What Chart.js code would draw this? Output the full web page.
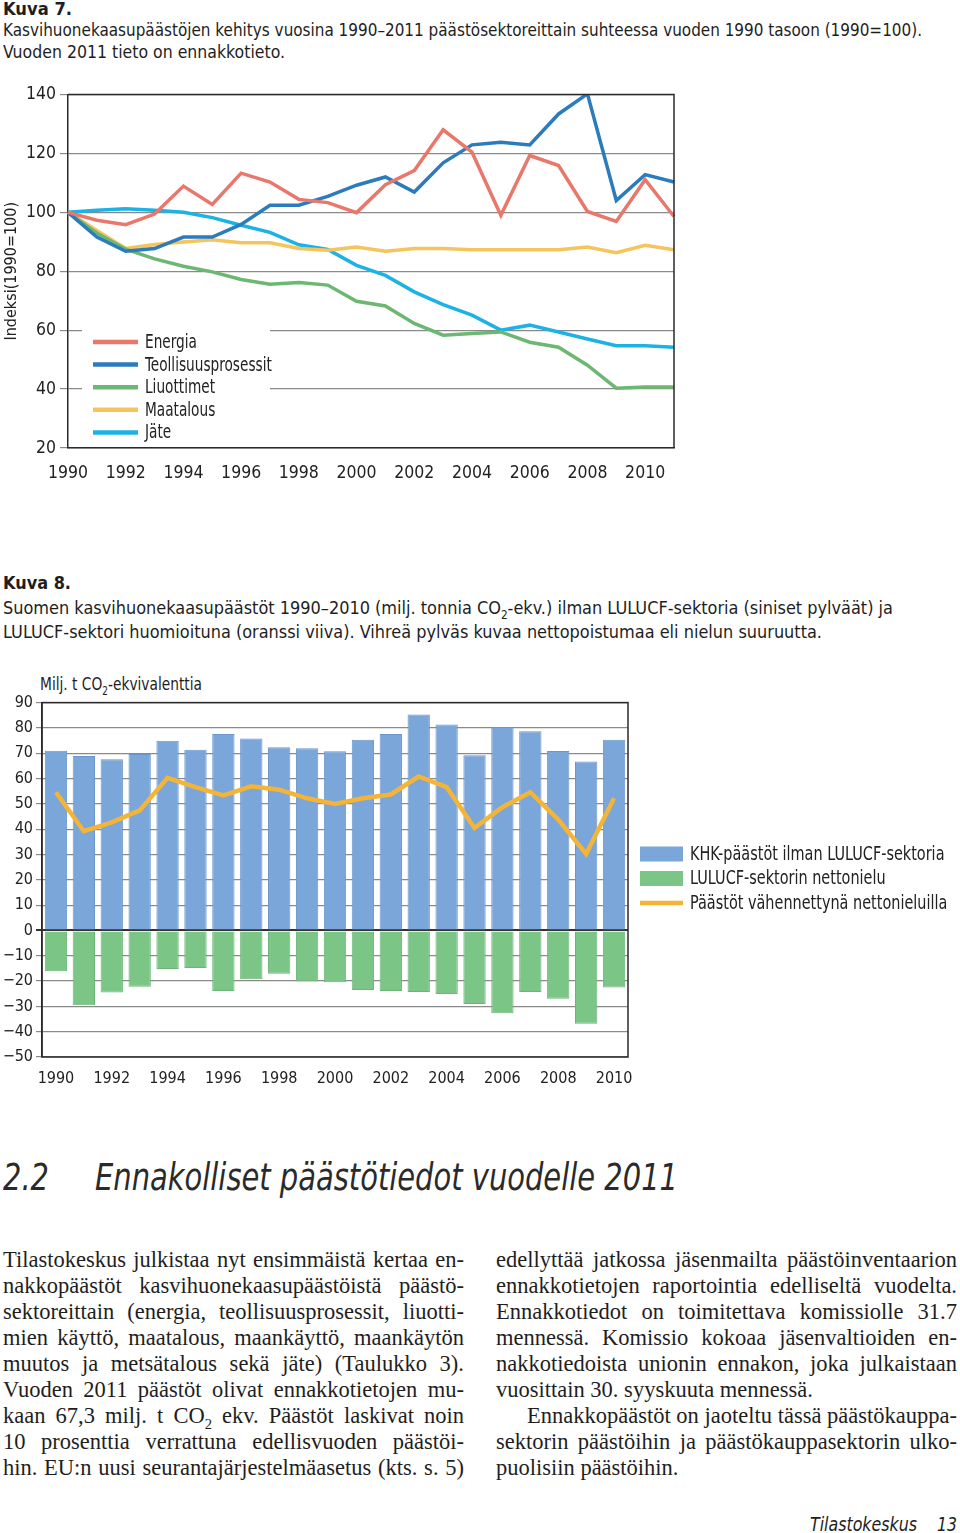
<!DOCTYPE html>
<html>
<head>
<meta charset="utf-8">
<script src="https://cdn.jsdelivr.net/npm/chart.js@4/dist/chart.umd.min.js"></script>
<style>
  body { margin: 0; background: #fff; width: 960px; height: 1533px; position: relative; overflow: hidden; }
  .t { position: absolute; font-family: "DejaVu Sans Condensed", "Liberation Sans Narrow", sans-serif; color: #1e1e1e; white-space: nowrap; transform-origin: 0 0; }
  .cap { font-size: 18px; line-height: 22px; left: 3px; }
  .bold { font-weight: bold; }
  .h2 { font-size: 37px; line-height: 40px; font-style: italic; color: #2a2a2a; }
  .body { position: absolute; font-family: "Liberation Serif", "DejaVu Serif", serif; font-size: 22.5px; line-height: 26px; color: #1e1e1e; width: 461px; text-align: justify; text-align-last: justify; white-space: nowrap; transform-origin: 0 0; }
  .last { text-align-last: left; }
  sub { font-size: 0.65em; line-height: 0; }
  canvas { position: absolute; left: 0; }
</style>
</head>
<body>
<div class="t cap bold" style="top:-2px" data-w="69">Kuva 7.</div>
<div class="t cap" style="top:19px" data-w="919">Kasvihuonekaasupäästöjen kehitys vuosina 1990–2011 päästösektoreittain suhteessa vuoden 1990 tasoon (1990=100).</div>
<div class="t cap" style="top:41px" data-w="282">Vuoden 2011 tieto on ennakkotieto.</div>

<canvas id="indexChart" width="690" height="420" style="top:80px"></canvas>

<div class="t cap bold" style="top:572px" data-w="68">Kuva 8.</div>
<div class="t cap" style="top:597px" data-w="890">Suomen kasvihuonekaasupäästöt 1990–2010 (milj. tonnia CO<sub>2</sub>-ekv.) ilman LULUCF-sektoria (siniset pylväät) ja</div>
<div class="t cap" style="top:621px" data-w="819">LULUCF-sektori huomioituna (oranssi viiva). Vihreä pylväs kuvaa nettopoistumaa eli nielun suuruutta.</div>

<div class="t" style="top:673px; left:40px; font-size:18px; line-height:22px;" data-w="162">Milj. t CO<sub>2</sub>-ekvivalenttia</div>
<canvas id="emissionChart" width="960" height="410" style="top:690px"></canvas>

<div class="t h2" style="top:1158px; left:3px" data-w="46">2.2</div>
<div class="t h2" style="top:1158px; left:95px" data-w="583">Ennakolliset päästötiedot vuodelle 2011</div>

<div class="body" style="left:3px; top:1247px">Tilastokeskus julkistaa nyt ensimmäistä kertaa en-</div>
<div class="body" style="left:3px; top:1273px">nakkopäästöt kasvihuonekaasupäästöistä päästö-</div>
<div class="body" style="left:3px; top:1299px">sektoreittain (energia, teollisuusprosessit, liuotti-</div>
<div class="body" style="left:3px; top:1325px">mien käyttö, maatalous, maankäyttö, maankäytön</div>
<div class="body" style="left:3px; top:1351px">muutos ja metsätalous sekä jäte) (Taulukko 3).</div>
<div class="body" style="left:3px; top:1377px">Vuoden 2011 päästöt olivat ennakkotietojen mu-</div>
<div class="body" style="left:3px; top:1403px">kaan 67,3 milj. t CO<sub>2</sub> ekv. Päästöt laskivat noin</div>
<div class="body" style="left:3px; top:1429px">10 prosenttia verrattuna edellisvuoden päästöi-</div>
<div class="body" style="left:3px; top:1455px">hin. EU:n uusi seurantajärjestelmäasetus (kts. s. 5)</div>

<div class="body" style="left:496px; top:1247px">edellyttää jatkossa jäsenmailta päästöinventaarion</div>
<div class="body" style="left:496px; top:1273px">ennakkotietojen raportointia edelliseltä vuodelta.</div>
<div class="body" style="left:496px; top:1299px">Ennakkotiedot on toimitettava komissiolle 31.7</div>
<div class="body" style="left:496px; top:1325px">mennessä. Komissio kokoaa jäsenvaltioiden en-</div>
<div class="body" style="left:496px; top:1351px">nakkotiedoista unionin ennakon, joka julkaistaan</div>
<div class="body last" style="left:496px; top:1377px">vuosittain 30. syyskuuta mennessä.</div>
<div class="body" style="left:527px; top:1403px; width:430px">Ennakkopäästöt on jaoteltu tässä päästökauppa-</div>
<div class="body" style="left:496px; top:1429px">sektorin päästöihin ja päästökauppasektorin ulko-</div>
<div class="body last" style="left:496px; top:1455px">puolisiin päästöihin.</div>

<div class="t" style="top:1512px; left:810px; font-size:20px; line-height:24px; font-style:italic;" data-w="107">Tilastokeskus</div>
<div class="t" style="top:1512px; left:937px; font-size:20px; line-height:24px; font-style:italic;" data-w="20">13</div>

<script>
// Kuva 7: index 1990=100 by sector
const years = ['1990', '1991', '1992', '1993', '1994', '1995', '1996', '1997', '1998', '1999', '2000',
  '2001', '2002', '2003', '2004', '2005', '2006', '2007', '2008', '2009', '2010', '2011'];
const energia = [100, 97.3, 95.8, 99.4, 108.9, 102.7, 113.3, 110.3, 104.4, 103.3, 99.9,
  109.4, 114.2, 128, 120.4, 99, 119.3, 115.9, 100.3, 96.9, 111.1, 98.6];
const teollisuus = [100, 91.6, 86.8, 87.7, 91.6, 91.6, 95.9, 102.4, 102.4, 105.4, 109.2,
  112, 106.9, 116.8, 122.9, 123.8, 122.9, 133.4, 140.2, 104, 112.8, 110.3];
const liuottimet = [100, 93, 87.5, 84.2, 81.7, 79.8, 77.2, 75.6, 76.2, 75.3, 69.8,
  68.2, 62.3, 58.3, 58.9, 59.4, 55.9, 54.2, 48.1, 40.3, 40.7, 40.7];
const maatalous = [100, 93.8, 87.7, 89.1, 89.9, 90.7, 89.7, 89.7, 87.7, 87.1, 88.2,
  86.8, 87.7, 87.7, 87.3, 87.3, 87.3, 87.3, 88.2, 86.3, 88.8, 87.3];
const jate = [100, 100.7, 101.2, 100.7, 100, 98.2, 95.6, 93.2, 89, 87.4, 82,
  78.6, 73, 68.7, 65.1, 60, 61.7, 59.4, 57, 54.7, 54.7, 54.2];

// Kuva 8: emissions, million t CO2-eq
const years2 = ['1990', '1991', '1992', '1993', '1994', '1995', '1996', '1997', '1998', '1999', '2000',
  '2001', '2002', '2003', '2004', '2005', '2006', '2007', '2008', '2009', '2010'];
const khk = [71.0, 68.9, 67.6, 69.7, 74.9, 71.4, 77.6, 75.8, 72.4, 72.0, 70.8,
  75.3, 77.6, 85.3, 81.3, 69.2, 80.4, 78.7, 70.9, 66.7, 75.3];
const lulucf = [-16.1, -29.6, -24.5, -22.2, -15.2, -14.8, -23.9, -19.3, -17.1, -20.2, -20.5,
  -23.5, -23.9, -24.3, -25.1, -29.1, -32.7, -24.3, -27.0, -36.9, -22.5];
const netto = [54.6, 39.2, 42.7, 47.4, 60.3, 56.6, 53.3, 56.9, 55.6, 52.2, 50.0,
  52.2, 53.7, 60.8, 56.6, 40.5, 48.7, 54.6, 43.8, 30.2, 52.2];

// squeeze the captions to the reference widths (no condensed font here)
document.querySelectorAll('[data-w]').forEach(el => {
  const w = el.getBoundingClientRect().width;
  el.style.transform = 'scaleX(' + (el.dataset.w / w) + ')';
});
document.querySelectorAll('.body').forEach(el => {
  if (el.scrollWidth > el.clientWidth + 1) {
    el.style.transform = 'scaleX(' + (el.clientWidth / el.scrollWidth) + ')';
  }
});

const FONT = '"DejaVu Sans Condensed", "Liberation Sans Narrow", sans-serif';
Chart.defaults.font.family = FONT;
Chart.defaults.color = '#222';

// legend drawn at a fixed spot (inside the plot for Kuva 7, to the right for Kuva 8)
const legendBox = {
  id: 'legendBox',
  afterDatasetsDraw(chart, args, opts) {
    const ctx = chart.ctx;
    ctx.save();
    if (opts.bg) {
      ctx.fillStyle = '#fff';
      ctx.fillRect(opts.bg[0], opts.bg[1], opts.bg[2], opts.bg[3]);
    }
    ctx.font = opts.fontSize + 'px ' + FONT;
    ctx.textBaseline = 'middle';
    chart.data.datasets.forEach((ds, i) => {
      const y = opts.y + i * opts.rowH;
      if (ds.type === 'bar') {
        ctx.fillStyle = ds.backgroundColor;
        ctx.fillRect(opts.x, y - 7.5, opts.len, 15);
      } else {
        ctx.strokeStyle = ds.borderColor;
        ctx.lineWidth = opts.lw;
        ctx.beginPath();
        ctx.moveTo(opts.x, y);
        ctx.lineTo(opts.x + opts.len, y);
        ctx.stroke();
      }
      ctx.save();
      ctx.translate(opts.x + opts.len + opts.gap, y + 1);
      ctx.scale(opts.sx, 1);
      ctx.fillStyle = '#222';
      ctx.fillText(ds.label, 0, 0);
      ctx.restore();
    });
    ctx.restore();
  }
};

// top and right frame lines
const frame = {
  id: 'frame',
  afterDatasetsDraw(chart) {
    const { ctx, chartArea: a } = chart;
    ctx.save();
    ctx.strokeStyle = '#2a2a2a';
    ctx.lineWidth = 1.5;
    ctx.beginPath();
    ctx.moveTo(a.left, a.top);
    ctx.lineTo(a.right, a.top);
    ctx.lineTo(a.right, a.bottom);
    ctx.stroke();
    ctx.restore();
  }
};

new Chart(document.getElementById('indexChart'), {
  type: 'line',
  data: {
    labels: years,
    datasets: [
      { type: 'line', label: 'Energia', data: energia, borderColor: '#e8776c' },
      { type: 'line', label: 'Teollisuusprosessit', data: teollisuus, borderColor: '#2b7bbd' },
      { type: 'line', label: 'Liuottimet', data: liuottimet, borderColor: '#6cb872' },
      { type: 'line', label: 'Maatalous', data: maatalous, borderColor: '#f6c45c' },
      { type: 'line', label: 'Jäte', data: jate, borderColor: '#1db2e6' }
    ]
  },
  options: {
    responsive: false,
    animation: false,
    layout: { padding: { top: 14, right: 16, left: 0, bottom: 0 } },
    elements: { point: { radius: 0 }, line: { borderWidth: 3.5, tension: 0 } },
    plugins: {
      legend: { display: false },
      tooltip: { enabled: false },
      // canvas coordinates (canvas sits at page y=80)
      legendBox: { x: 93, y: 262, rowH: 22.6, len: 45, gap: 7, lw: 4.5, fontSize: 19, sx: 0.8, bg: [82, 244, 188, 121] }
    },
    scales: {
      x: {
        offset: false,
        grid: { display: false },
        border: { color: '#2a2a2a', width: 1.5 },
        ticks: {
          autoSkip: false, maxRotation: 0, padding: 7,
          font: { size: 17.5 },
          callback: (v, i) => (i % 2 === 0 ? years[i] : '')
        },
        afterFit: s => { s.height = 52; }
      },
      y: {
        min: 20, max: 140,
        ticks: { stepSize: 20, padding: 4, font: { size: 17.5 } },
        grid: { color: '#8a8a8a', lineWidth: 1.2, tickLength: 8 },
        border: { color: '#2a2a2a', width: 1.5 },
        title: { display: true, text: 'Indeksi(1990=100)', font: { size: 16 }, padding: 2 },
        afterFit: s => { s.width = 68; }
      }
    }
  },
  plugins: [legendBox, frame]
});

new Chart(document.getElementById('emissionChart'), {
  type: 'bar',
  data: {
    labels: years2,
    datasets: [
      { type: 'bar', label: 'KHK-päästöt ilman LULUCF-sektoria', data: khk, backgroundColor: '#7aa6da',
        borderColor: '#6a96cc', borderWidth: 1, grouped: false, order: 2 },
      { type: 'bar', label: 'LULUCF-sektorin nettonielu', data: lulucf, backgroundColor: '#7bc587',
        borderColor: '#6cb577', borderWidth: 1, grouped: false, order: 2 },
      { type: 'line', label: 'Päästöt vähennettynä nettonieluilla', data: netto, borderColor: '#f4b437',
        borderWidth: 4.5, pointRadius: 0, tension: 0, order: 0 }
    ]
  },
  options: {
    responsive: false,
    animation: false,
    layout: { padding: { top: 10, right: 332, left: 0, bottom: 0 } },
    datasets: { bar: { barPercentage: 0.8, categoryPercentage: 1 } },
    plugins: {
      legend: { display: false },
      tooltip: { enabled: false },
      // canvas coordinates (canvas sits at page y=690)
      legendBox: { x: 640, y: 164, rowH: 24.5, len: 43, gap: 7, lw: 4.5, fontSize: 19, sx: 0.845 }
    },
    scales: {
      x: {
        grid: { display: false },
        border: { display: false },
        ticks: {
          autoSkip: false, maxRotation: 0, padding: 4,
          font: { size: 16 },
          callback: (v, i) => (i % 2 === 0 ? years2[i] : '')
        },
        afterFit: s => { s.height = 43; }
      },
      y: {
        min: -50, max: 90,
        ticks: {
          stepSize: 10, padding: 3, font: { size: 16 },
          callback: v => (v < 0 ? '\u2212' + Math.abs(v) : v)
        },
        grid: {
          tickLength: 6,
          color: c => (c.tick && c.tick.value === 0 ? '#333' : '#8a8a8a'),
          lineWidth: c => (c.tick && c.tick.value === 0 ? 2 : 1.2)
        },
        border: { color: '#2a2a2a', width: 1.5 },
        afterFit: s => { s.width = 42; }
      }
    }
  },
  plugins: [legendBox, {
    id: 'frame2',
    afterDatasetsDraw(chart) {
      const { ctx, chartArea: a } = chart;
      ctx.save();
      ctx.strokeStyle = '#2a2a2a';
      ctx.lineWidth = 1.5;
      ctx.strokeRect(a.left, a.top, a.right - a.left, a.bottom - a.top);
      ctx.restore();
    }
  }]
});
</script>
</body>
</html>
